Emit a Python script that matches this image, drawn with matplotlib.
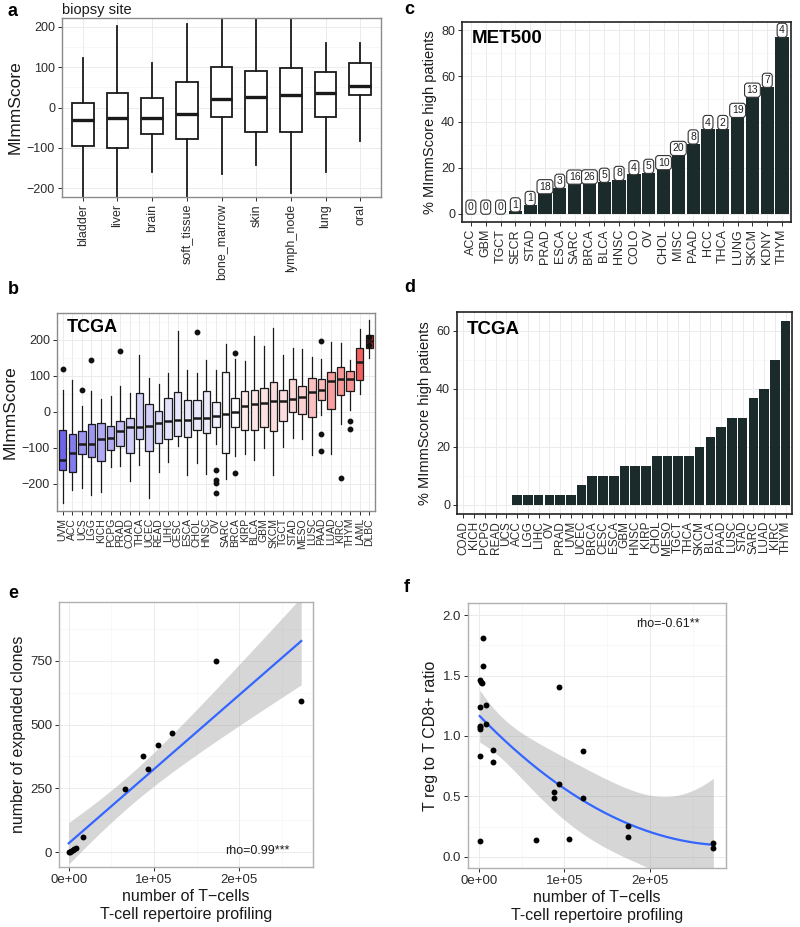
import numpy as np
import matplotlib
matplotlib.use("Agg")
import matplotlib.pyplot as plt
from matplotlib.ticker import FixedLocator
from matplotlib.colors import LinearSegmentedColormap, Normalize

plt.rcParams['font.family'] = ['Liberation Sans', 'DejaVu Sans']

# ---------------- data ----------------
# panel a: biopsy site
a_sites = ["bladder", "liver", "brain", "soft_tissue", "bone_marrow", "skin", "lymph_node", "lung", "oral"]
a_q1 = [-95, -100, -65, -79, -23, -60, -61, -23, 30]
a_med = [-31, -27, -25, -15, 20, 26, 30, 35, 53]
a_q3 = [11, 35, 23, 64, 100, 91, 98, 88, 110]
a_lo = [-260, -260, -161, -260, -164, -142, -211, -159, -84]
a_hi = [122, 203, 110, 206, 260, 260, 260, 161, 159]

# panel b: TCGA
b_types = ["UVM", "ACC", "UCS", "LGG", "KICH", "PCPG", "PRAD", "COAD", "THCA", "UCEC", "READ",
           "LIHC", "CESC", "ESCA", "CHOL", "HNSC", "OV", "SARC", "BRCA", "KIRP", "BLCA", "GBM",
           "SKCM", "TGCT", "STAD", "MESO", "LUSC", "PAAD", "LUAD", "KIRC", "THYM", "LAML", "DLBC"]
b_q1 = [-161, -168, -119, -126, -137, -106, -95, -114, -75, -109, -86, -77, -67, -70, -50, -58,
        -42, -116, -44, -52, -51, -42, -54, -26, 0, -6, -16, 33, 7, 46, 58, 87, 178]
b_med = [-135, -114, -91, -91, -75, -73, -54, -44, -42, -40, -32, -26, -22, -22, -19, -18,
         -13, -6, 0, 16, 22, 25, 30, 30, 34, 41, 54, 60, 84, 90, 92, 139, 196]
b_q3 = [-50, -61, -53, -34, -31, -41, -26, -17, 52, 22, 2, 39, 55, 33, 33, 57,
        28, 111, 37, 58, 60, 66, 81, 59, 91, 72, 93, 91, 111, 125, 114, 178, 213]
b_lo = [-253, -217, -211, -232, -223, -154, -151, -194, -149, -239, -167, -139, -95, -177, -144, -172,
        -89, -187, -122, -117, -134, -102, -176, -97, -74, -75, -120, -10, -118, -33, 5, 50, 150]
b_hi = [59, 89, 15, 57, 35, 43, 70, 53, 158, 94, 78, 107, 224, 115, 107, 144,
        117, 187, 146, 141, 210, 182, 233, 158, 178, 173, 153, 146, 194, 192, 143, 230, 255]
b_out = {0: [119], 2: [59], 3: [144], 6: [169], 14: [221], 16: [-163, -189, -198, -226],
         18: [164, -170], 27: [196, -61, -109], 29: [-185], 30: [-26, -48], 32: [207, 185]}

# panel c: MET500
c_types = ["ACC", "GBM", "TGCT", "SECR", "STAD", "PRAD", "ESCA", "SARC", "BRCA", "BLCA", "HNSC", "COLO",
           "OV", "CHOL", "MISC", "PAAD", "HCC", "THCA", "LUNG", "SKCM", "KDNY", "THYM"]
c_pct = [0, 0, 0, 1.0, 3.8, 8.9, 11.3, 13.1, 13.2, 13.9, 14.7, 17.2, 17.8, 19.4, 25.6, 30.6,
         36.9, 36.9, 42.2, 51.0, 55.3, 77.1]
c_n = [0, 0, 0, 1, 1, 18, 3, 16, 26, 5, 8, 4, 5, 10, 20, 8, 4, 2, 19, 13, 7, 4]

# panel d: TCGA
d_types = ["COAD", "KICH", "PCPG", "READ", "UCS", "ACC", "LGG", "LIHC", "OV", "PRAD", "UVM", "UCEC",
           "BRCA", "CESC", "ESCA", "GBM", "HNSC", "KIRP", "CHOL", "MESO", "TGCT", "THCA", "SKCM",
           "BLCA", "PAAD", "LUSC", "STAD", "SARC", "LUAD", "KIRC", "THYM"]
d_pct = [0, 0, 0, 0, 0, 3.33, 3.33, 3.33, 3.33, 3.33, 3.33, 6.67, 10, 10, 10, 13.33, 13.33, 13.33,
         16.67, 16.67, 16.67, 16.67, 20, 23.33, 26.67, 30, 30, 36.67, 40, 50, 63.33]

# panel e
e_x = [0, 1500, 3000, 4500, 6000, 8200, 17200, 66400, 87100, 93000, 105000, 121000, 173000, 272700]
e_y = [0, 2, 4, 8, 12, 16, 60, 247, 378, 326, 418, 466, 750, 591]

# panel f
f_x = [4700, 4700, 800, 2000, 3500, 800, 7800, 800, 800, 1200, 7800, 1600, 16800, 16800, 1200,
       66400, 87500, 87500, 93400, 93400, 105500, 121500, 121500, 174200, 174200, 274200, 274200]
f_y = [1.807, 1.58, 1.46, 1.45, 1.435, 1.24, 1.256, 1.08, 1.07, 1.055, 1.10, 0.837, 0.887, 0.782,
       0.127, 0.138, 0.534, 0.485, 0.60, 1.408, 0.143, 0.873, 0.485, 0.251, 0.165, 0.118, 0.074]

# ---------------- helpers ----------------
W, H = 800, 927
fig = plt.figure(figsize=(W / 100, H / 100), dpi=100)


def rect(l, r, t, b):
    return [l / W, 1 - b / H, (r - l) / W, (b - t) / H]


TXT = '#2b2b2b'
DARK = '#1a1a1a'


def style(ax, border='#8a8a8a', lw=1.0):
    ax.set_facecolor('white')
    for s in ax.spines.values():
        s.set_color(border)
        s.set_linewidth(lw)
    ax.grid(True, which='major', color='#ebebeb', lw=0.7)
    ax.grid(True, which='minor', color='#f4f4f4', lw=0.4)
    ax.set_axisbelow(True)
    ax.tick_params(which='major', length=3, width=0.7, color=TXT, labelcolor=TXT, labelsize=9, pad=2)
    ax.tick_params(which='minor', length=0)


def box_stats(q1, med, q3, lo, hi, outs=None):
    st = []
    for i in range(len(med)):
        st.append(dict(med=med[i], q1=q1[i], q3=q3[i], whislo=lo[i], whishi=hi[i],
                       fliers=(outs or {}).get(i, [])))
    return st


def tval(df):
    table = {10: 2.228, 11: 2.201, 12: 2.179, 13: 2.160, 14: 2.145, 23: 2.069, 24: 2.064,
             25: 2.060, 26: 2.056, 27: 2.052}
    return table.get(df, 2.0)


# ---------------- panel a ----------------
ax = fig.add_axes(rect(62, 381, 18, 197))
style(ax)
pos = np.arange(1, len(a_sites) + 1)
ax.bxp(box_stats(a_q1, a_med, a_q3, a_lo, a_hi), positions=pos, widths=0.62, patch_artist=True,
       showcaps=False, showfliers=False,
       boxprops=dict(facecolor='white', edgecolor=DARK, lw=1.3),
       medianprops=dict(color=DARK, lw=2.4, solid_capstyle='butt'),
       whiskerprops=dict(color=DARK, lw=1.3))
ax.set_xlim(0.4, len(a_sites) + 0.6)
ax.set_ylim(-222, 222)
ax.yaxis.set_major_locator(FixedLocator([-200, -100, 0, 100, 200]))
ax.yaxis.set_minor_locator(FixedLocator([-150, -50, 50, 150]))
ax.set_xticks(pos)
ax.set_xticklabels(a_sites, rotation=90, fontsize=9)
ax.tick_params(axis='y', labelsize=9)
ax.set_ylabel('MImmScore', fontsize=12.5, color=DARK, labelpad=3)
ax.set_title('biopsy site', loc='left', fontsize=10.5, color=DARK, pad=3)

# ---------------- panel b ----------------
ax = fig.add_axes(rect(57, 375, 313, 511))
style(ax)
pos = np.arange(1, len(b_types) + 1)
cmap = LinearSegmentedColormap.from_list('bwr_gg', ['#2d1fe0', '#ffffff', '#ee1c1c'])
mx = max(abs(np.array(b_med)))
norm = Normalize(vmin=-mx, vmax=mx)
bp = ax.bxp(box_stats(b_q1, b_med, b_q3, b_lo, b_hi, b_out), positions=pos, widths=0.78,
            patch_artist=True, showcaps=False,
            boxprops=dict(edgecolor=DARK, lw=0.9),
            medianprops=dict(color=DARK, lw=1.8, solid_capstyle='butt'),
            whiskerprops=dict(color=DARK, lw=0.9),
            flierprops=dict(marker='o', markersize=3.2, markerfacecolor='#111111',
                            markeredgecolor='#111111'))
for patch, m in zip(bp['boxes'], b_med):
    patch.set_facecolor(cmap(norm(m)))
ax.set_xlim(0.4, len(b_types) + 0.6)
ax.set_ylim(-276, 274)
ax.yaxis.set_major_locator(FixedLocator([-200, -100, 0, 100, 200]))
ax.yaxis.set_minor_locator(FixedLocator([-250, -150, -50, 50, 150, 250]))
ax.set_xticks(pos)
ax.set_xticklabels(b_types, rotation=90, fontsize=7.5)
ax.tick_params(axis='y', labelsize=9)
ax.set_ylabel('MImmScore', fontsize=12.5, color=DARK, labelpad=3)
ax.text(0.03, 0.97, 'TCGA', transform=ax.transAxes, fontsize=13, fontweight='bold', va='top', ha='left')

# ---------------- panel c ----------------
ax = fig.add_axes(rect(462, 791, 22, 222))
style(ax, border='#222222', lw=1.2)
pos = np.arange(1, len(c_types) + 1)
ax.bar(pos, c_pct, width=0.9, color='#1b2a2a', edgecolor='none')
for x, v, n in zip(pos, c_pct, c_n):
    ax.text(x, v + 0.7, str(n), ha='center', va='bottom', fontsize=7.5, color='#222222',
            bbox=dict(boxstyle='round,pad=0.2,rounding_size=0.3', fc='white', ec='#333333', lw=0.8))
ax.set_xlim(0.4, len(c_types) + 0.6)
ax.set_ylim(-3.6, 83.6)
ax.yaxis.set_major_locator(FixedLocator([0, 20, 40, 60, 80]))
ax.yaxis.set_minor_locator(FixedLocator([10, 30, 50, 70]))
ax.set_xticks(pos)
ax.set_xticklabels(c_types, rotation=90, fontsize=9)
ax.tick_params(axis='y', labelsize=9)
ax.set_ylabel('% MImmScore high patients', fontsize=10.5, color=DARK, labelpad=3)
ax.text(0.03, 0.96, 'MET500', transform=ax.transAxes, fontsize=13.5, fontweight='bold', va='top', ha='left')

# ---------------- panel d ----------------
ax = fig.add_axes(rect(457, 792, 312, 514))
style(ax, border='#222222', lw=1.2)
pos = np.arange(1, len(d_types) + 1)
ax.bar(pos, d_pct, width=0.9, color='#1b2a2a', edgecolor='none')
ax.set_xlim(0.4, len(d_types) + 0.6)
ax.set_ylim(-3.2, 66.4)
ax.yaxis.set_major_locator(FixedLocator([0, 20, 40, 60]))
ax.yaxis.set_minor_locator(FixedLocator([10, 30, 50]))
ax.set_xticks(pos)
ax.set_xticklabels(d_types, rotation=90, fontsize=8.5)
ax.tick_params(axis='y', labelsize=9)
ax.set_ylabel('% MImmScore high patients', fontsize=10.5, color=DARK, labelpad=3)
ax.text(0.03, 0.955, 'TCGA', transform=ax.transAxes, fontsize=13.5, fontweight='bold', va='top', ha='left')

# ---------------- panel e ----------------
ax = fig.add_axes(rect(59, 313, 602, 867))
style(ax, border='#b0b0b0')
ex = np.array(e_x, float); ey = np.array(e_y, float)
n = len(ex)
b1, b0 = np.polyfit(ex, ey, 1)
res = ey - (b0 + b1 * ex)
s = np.sqrt(np.sum(res ** 2) / (n - 2))
gx = np.linspace(ex.min(), ex.max(), 200)
se = s * np.sqrt(1 / n + (gx - ex.mean()) ** 2 / np.sum((ex - ex.mean()) ** 2))
fit = b0 + b1 * gx
t = tval(n - 2)
ax.fill_between(gx, fit - t * se, fit + t * se, color='#999999', alpha=0.4, lw=0)
ax.plot(gx, fit, color='#3366ff', lw=1.6)
ax.scatter(ex, ey, s=18, color='black', zorder=3, lw=0)
ax.set_xlim(-11400, 286500)
ax.set_ylim(-57, 979)
ax.xaxis.set_major_locator(FixedLocator([0, 1e5, 2e5]))
ax.xaxis.set_minor_locator(FixedLocator([5e4, 1.5e5, 2.5e5]))
ax.set_xticklabels(['0e+00', '1e+05', '2e+05'])
ax.yaxis.set_major_locator(FixedLocator([0, 250, 500, 750]))
ax.yaxis.set_minor_locator(FixedLocator([125, 375, 625, 875]))
ax.tick_params(labelsize=9.5)
ax.set_xlabel('number of T\u2212cells\nT-cell repertoire profiling', fontsize=11.5, color=DARK,
              linespacing=1.3, labelpad=2)
ax.set_ylabel('number of expanded clones', fontsize=11.5, color=DARK, labelpad=3)
ax.text(0.78, 0.06, 'rho=0.99***', transform=ax.transAxes, fontsize=9, color=DARK,
        ha='center', va='center')

# ---------------- panel f ----------------
ax = fig.add_axes(rect(468, 726, 603, 868))
style(ax, border='#b0b0b0')
fx = np.array(f_x, float) / 1e5; fy = np.array(f_y, float)
n = len(fx)
X = np.column_stack([np.ones(n), fx, fx ** 2])
beta, *_ = np.linalg.lstsq(X, fy, rcond=None)
res = fy - X @ beta
s2 = np.sum(res ** 2) / (n - 3)
XtXi = np.linalg.inv(X.T @ X)
gx = np.linspace(fx.min(), fx.max(), 200)
G = np.column_stack([np.ones_like(gx), gx, gx ** 2])
fit = G @ beta
se = np.sqrt(s2 * np.einsum('ij,jk,ik->i', G, XtXi, G))
t = tval(n - 3)
ax.fill_between(gx * 1e5, fit - t * se, fit + t * se, color='#999999', alpha=0.4, lw=0)
ax.plot(gx * 1e5, fit, color='#3366ff', lw=1.6)
ax.scatter(fx * 1e5, fy, s=18, color='black', zorder=3, lw=0)
ax.set_xlim(-12900, 289000)
ax.set_ylim(-0.093, 2.10)
ax.xaxis.set_major_locator(FixedLocator([0, 1e5, 2e5]))
ax.xaxis.set_minor_locator(FixedLocator([5e4, 1.5e5, 2.5e5]))
ax.set_xticklabels(['0e+00', '1e+05', '2e+05'])
ax.yaxis.set_major_locator(FixedLocator([0, 0.5, 1.0, 1.5, 2.0]))
ax.yaxis.set_minor_locator(FixedLocator([0.25, 0.75, 1.25, 1.75]))
ax.set_yticklabels(['0.0', '0.5', '1.0', '1.5', '2.0'])
ax.tick_params(labelsize=9.5)
ax.set_xlabel('number of T\u2212cells\nT-cell repertoire profiling', fontsize=11.5, color=DARK,
              linespacing=1.3, labelpad=2)
ax.set_ylabel('T reg to T CD8+ ratio', fontsize=11.5, color=DARK, labelpad=3)
ax.text(0.775, 0.92, 'rho=-0.61**', transform=ax.transAxes, fontsize=9, color=DARK,
        ha='center', va='center')

# ---------------- panel letters ----------------
for lab, x, y in [('a', 8, 12), ('b', 8, 290), ('c', 404, 9), ('d', 404, 288), ('e', 8, 593), ('f', 404, 588)]:
    fig.text(x / W, 1 - y / H, lab, fontsize=13, fontweight='bold', ha='left', va='center')

fig.savefig('out.png', dpi=100)
